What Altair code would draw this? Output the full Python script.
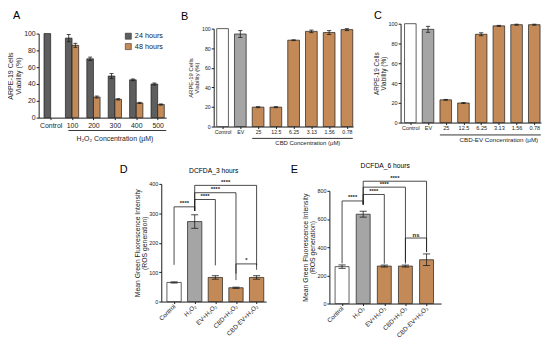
import json
import altair as alt
import pandas as pd

FONT = "Liberation Sans"
INK = "#1c1c1c"
TAN = "#c38a57"
DARK = "#5e5e5e"
GREY = "#a5a5a5"
WHITE = "#ffffff"

# ---------------- data ----------------
# Panel A
a_categories = ["Control", "100", "200", "300", "400", "500"]
a_series = ["24 hours", "48 hours"]
a_24h = [100, 94.6, 70, 49.5, 45, 40]
a_24h_err = [0, 4.3, 2, 3, 1, 1.2]
a_48h = [None, 86, 24.5, 21.8, 17.5, 15.6]
a_48h_err = [None, 2.4, 1.2, 0.8, 0.7, 0.7]
a_axis_title = "H₂O₂ Concentration (µM)"
a_span = [0.83, 5.4]
a_span_label_x = 3.0

# Panels B and C
bc_categories = ["Control", "EV", "25", "12.5", "6.25", "3.13", "1.56", "0.78"]
bc_groups = ["Control", "EV", "Drug", "Drug", "Drug", "Drug", "Drug", "Drug"]
b_viability = [100, 94.5, 19.8, 19.8, 88.2, 97.2, 96, 99]
b_err = [0, 3.5, 0.5, 0.5, 0.4, 1.3, 2, 1]
b_axis_title = "CBD Concentration (µM)"
b_span = [1.67, 7.33]
b_span_label_x = 4.8
c_viability = [100, 94.3, 23, 19.8, 89.3, 97.8, 99, 99]
c_err = [0, 3, 0.4, 0.4, 1.5, 0.5, 0.5, 0.5]
c_axis_title = "CBD-EV Concentration (µM)"
c_span = [1.67, 7.37]
c_span_label_x = 5.0

viability_title = ["ARPE-19 Cells", "Viability (%)"]

# Panels D and E
de_categories = ["Control", "H₂O₂", "EV+H₂O₂", "CBD+H₂O₂", "CBD-EV+H₂O₂"]
de_groups = ["Control", "H2O2", "Drug", "Drug", "Drug"]
d_mfi = [65, 272, 82, 47, 82]
d_err = [2, 23, 6, 2, 6]
e_mfi = [262, 634, 266, 266, 311]
e_err = [12, 21, 7, 7, 41]
d_title = "DCFDA_3 hours"
e_title = "DCFDA_6 hours"
mfi_title = ["Mean Green Fluorescence Intensity", "(ROS generation)"]

d_br_left = [0, 1, 1, 1, 3]
d_br_right = [1, 2, 3, 4, 4]
d_br_level = [322, 347, 370, 395, 128]
d_br_left_end = [125, 308, 308, 308, 95]
d_br_right_end = [308, 123, 73, 123, 108]
d_br_label = ["****", "****", "****", "****", "*"]

e_br_left = [0, 1, 1, 1, 3]
e_br_right = [1, 2, 3, 4, 4]
e_br_level = [728, 774, 826, 868, 465]
e_br_left_end = [285, 702, 702, 702, 295]
e_br_right_end = [702, 283, 283, 365, 365]
e_br_label = ["****", "****", "****", "****", "ns"]


# ---------------- helpers ----------------
def bar_frame(values, errors, centers, half, groups, cap):
    rows = []
    for v, e, c, g in zip(values, errors, centers, groups):
        if v is None:
            continue
        rows.append({"x0": c - half, "x1": c + half, "xc": c, "c0": c - cap, "c1": c + cap,
                     "val": v, "zero": 0, "lo": v - e, "hi": v + e, "err": e, "grp": g})
    return pd.DataFrame(rows)


def bracket_frames(left, right, level, lend, rend, labels):
    segs, texts = [], []
    for a, b, lv, e1, e2, t in zip(left, right, level, lend, rend, labels):
        segs.append({"xa": a, "xb": b, "ya": lv, "yb": lv})
        segs.append({"xa": a, "xb": a, "ya": lv, "yb": e1})
        segs.append({"xa": b, "xb": b, "ya": lv, "yb": e2})
        texts.append({"xm": (a + b) / 2, "lv": lv, "label": t})
    return pd.DataFrame(segs), pd.DataFrame(texts)


def label_text(px, py, text, size, align="left", weight="normal"):
    return alt.Chart(pd.DataFrame({"t": [text]})).mark_text(
        font=FONT, fontSize=size, align=align, baseline="alphabetic", color="#000000",
        fontWeight=weight).encode(x=alt.value(px), y=alt.value(py), text="t:N")


def panel(bars, labels, xdom, xrange, ydom, yrange, yticks, ytitle, width, height,
          fs_x, fs_y, fs_title, x_offset, color, angle=0, y_offset=0, extra_fn=None):
    xs = alt.Scale(domain=xdom, range=xrange, nice=False, zero=False)
    ys = alt.Scale(domain=ydom, range=yrange, nice=False, zero=False)
    xa = alt.Axis(values=list(range(len(labels))),
                  labelExpr=json.dumps(labels, ensure_ascii=False) + "[datum.value]",
                  title=None, offset=x_offset, labelAngle=angle,
                  labelAlign=("right" if angle else "center"),
                  labelBaseline=("middle" if angle else "top"),
                  labelFontSize=fs_x, tickSize=2, labelPadding=1.5,
                  labelFlush=False, labelOverlap=False)
    ya = alt.Axis(values=yticks, title=ytitle, titleFontSize=fs_title, titleFontWeight="normal",
                  titleLineHeight=fs_title * 1.05, labelFontSize=fs_y, tickSize=2.5,
                  labelPadding=1, titlePadding=1.5, labelFlush=False, labelOverlap=False,
                  offset=y_offset)

    def X(f):
        return alt.X(f + ":Q", scale=xs, axis=xa)

    def Y(f):
        return alt.Y(f + ":Q", scale=ys, axis=ya)

    layers = [alt.Chart(bars).mark_bar(stroke=INK, strokeWidth=0.7).encode(
        x=X("x0"), x2="x1", y=Y("val"), y2="zero", color=color)]
    eb = bars[bars["err"] > 0]
    layers.append(alt.Chart(eb).mark_rule(color=INK, strokeWidth=0.8).encode(
        x=X("xc"), y=Y("lo"), y2="hi"))
    layers.append(alt.Chart(eb).mark_rule(color=INK, strokeWidth=0.8).encode(
        x=X("c0"), x2="c1", y=Y("hi")))
    layers.append(alt.Chart(eb).mark_rule(color=INK, strokeWidth=0.8).encode(
        x=X("c0"), x2="c1", y=Y("lo")))
    if extra_fn is not None:
        layers += extra_fn(X, Y)
    return alt.layer(*layers).properties(width=width, height=height)


def span_layers(span, label_x, text, y_line, y_text, size):
    def fn(X, Y):
        df = pd.DataFrame({"s0": [span[0]], "s1": [span[1]]})
        tdf = pd.DataFrame({"sx": [label_x], "label": [text]})
        return [
            alt.Chart(df).mark_rule(color=INK, strokeWidth=0.9).encode(
                x=X("s0"), x2="s1", y=alt.value(y_line)),
            alt.Chart(tdf).mark_text(font=FONT, fontSize=size, color=INK, baseline="alphabetic").encode(
                x=X("sx"), y=alt.value(y_text), text="label:N"),
        ]
    return fn


# ---------------- Panel A ----------------
idx = list(range(len(a_categories)))
a_df = pd.concat([
    bar_frame(a_24h, a_24h_err, [i - 0.155 for i in idx], 0.155, [a_series[0]] * 6, 0.09),
    bar_frame(a_48h, a_48h_err, [i + 0.155 for i in idx], 0.155, [a_series[1]] * 6, 0.09),
], ignore_index=True)
a_color = alt.Color("grp:N", scale=alt.Scale(domain=a_series, range=[DARK, TAN]),
                    legend=alt.Legend(orient="none", legendX=87, legendY=9, title=None,
                                      symbolType="square", symbolSize=38, symbolStrokeColor=INK,
                                      symbolStrokeWidth=0.5, labelFontSize=7.3, labelFont=FONT,
                                      labelColor=INK, rowPadding=1.5, labelOffset=3, padding=0))


def a_extra(X, Y):
    return span_layers(a_span, a_span_label_x, a_axis_title, 108, 118.5, 7)(X, Y) + [
        label_text(-26, -5, "A", 11)]


chart_a = panel(a_df, a_categories, [-0.56, 5.4], [0, 129], [0, 100], [95, 10],
                [0, 20, 40, 60, 80, 100], viability_title, 129, 104,
                7, 7, 7.2, -9, a_color, extra_fn=a_extra)

# ---------------- Panels B, C ----------------
bc_color = alt.Color("grp:N", scale=alt.Scale(domain=["Control", "EV", "Drug"],
                                              range=[WHITE, GREY, TAN]), legend=None)
bidx = list(range(len(bc_categories)))
b_df = bar_frame(b_viability, b_err, bidx, 0.33, bc_groups, 0.12)
c_df = bar_frame(c_viability, c_err, bidx, 0.327, bc_groups, 0.12)


def b_extra(X, Y):
    return span_layers(b_span, b_span_label_x, b_axis_title, 116, 122.5, 6)(X, Y) + [
        label_text(-33, -4, "B", 11)]


def c_extra(X, Y):
    return span_layers(c_span, c_span_label_x, c_axis_title, 112.5, 119.5, 6.3)(X, Y) + [
        label_text(-27, -5, "C", 11)]


chart_b = panel(b_df, bc_categories, [-0.5, 7.35], [0, 141], [0, 100], [104, 5],
                [0, 20, 40, 60, 80, 100], viability_title, 141, 104,
                5.3, 5.3, 6, 0, bc_color, extra_fn=b_extra)
chart_c = panel(c_df, bc_categories, [-0.55, 7.38], [0, 142], [0, 100], [100, 0],
                [0, 20, 40, 60, 80, 100], viability_title, 142, 104,
                5.6, 5.6, 6.5, -4, bc_color, extra_fn=c_extra)

# ---------------- Panels D, E ----------------
de_color = alt.Color("grp:N", scale=alt.Scale(domain=["Control", "H2O2", "Drug"],
                                              range=[WHITE, GREY, TAN]), legend=None)
didx = list(range(len(de_categories)))
d_df = bar_frame(d_mfi, d_err, didx, 0.347, de_groups, 0.17)
e_df = bar_frame(e_mfi, e_err, didx, 0.33, de_groups, 0.17)


def bracket_layers(frames, letter, letter_x, title, title_x, title_y):
    segs, texts = frames

    def fn(X, Y):
        return [
            alt.Chart(segs).mark_rule(color=INK, strokeWidth=0.8).encode(
                x=X("xa"), x2="xb", y=Y("ya"), y2="yb"),
            alt.Chart(texts).mark_text(font=FONT, fontSize=6, fontWeight="bold", color=INK,
                                       baseline="bottom", dy=-0.5).encode(
                x=X("xm"), y=Y("lv"), text="label:N"),
            label_text(letter_x, -11, letter, 11),
            label_text(title_x, title_y, title, 6.8, align="center"),
        ]
    return fn


# D sits in column 1 (starts under A), E in column 2 (starts under B);
# their plot rectangles are shifted right inside those cells.
D_SHIFT, D_W = 124, 106
E_SHIFT, E_W = 117, 113
chart_d = panel(d_df, de_categories, [-0.62, 4.46], [D_SHIFT, D_SHIFT + D_W], [0, 400], [119, 0],
                [0, 100, 200, 300, 400], mfi_title, 100, 121,
                6.3, 5.5, 6.9, -2, de_color, angle=315, y_offset=-D_SHIFT,
                extra_fn=bracket_layers(bracket_frames(d_br_left, d_br_right, d_br_level,
                                                       d_br_left_end, d_br_right_end, d_br_label),
                                        "D", D_SHIFT - 42, d_title, D_SHIFT + D_W / 2, -11))
chart_e = panel(e_df, de_categories, [-0.6, 4.69], [E_SHIFT, E_SHIFT + E_W], [0, 800], [121, 7],
                [0, 200, 400, 600, 800], mfi_title, 120, 121,
                6.3, 5.5, 6.9, 0, de_color, angle=315, y_offset=-E_SHIFT,
                extra_fn=bracket_layers(bracket_frames(e_br_left, e_br_right, e_br_level,
                                                       e_br_left_end, e_br_right_end, e_br_label),
                                        "E", E_SHIFT - 39, e_title, E_SHIFT + E_W / 2, -16))

chart = alt.concat(
    chart_a, chart_b, chart_c, chart_d, chart_e,
    columns=3, spacing=alt.RowColnumber(row=58, column=48), align="each", bounds="flush",
).resolve_scale(color="independent").properties(
    padding={"left": -2, "top": 0, "right": 0, "bottom": 0}
).configure(font=FONT).configure_view(strokeWidth=0).configure_axis(
    domainColor=INK, tickColor=INK, labelColor=INK, titleColor=INK, grid=False,
    labelFont=FONT, titleFont=FONT, domainWidth=1, tickWidth=1,
)

chart.save("out.html", embed_options={"renderer": "svg", "actions": False})
